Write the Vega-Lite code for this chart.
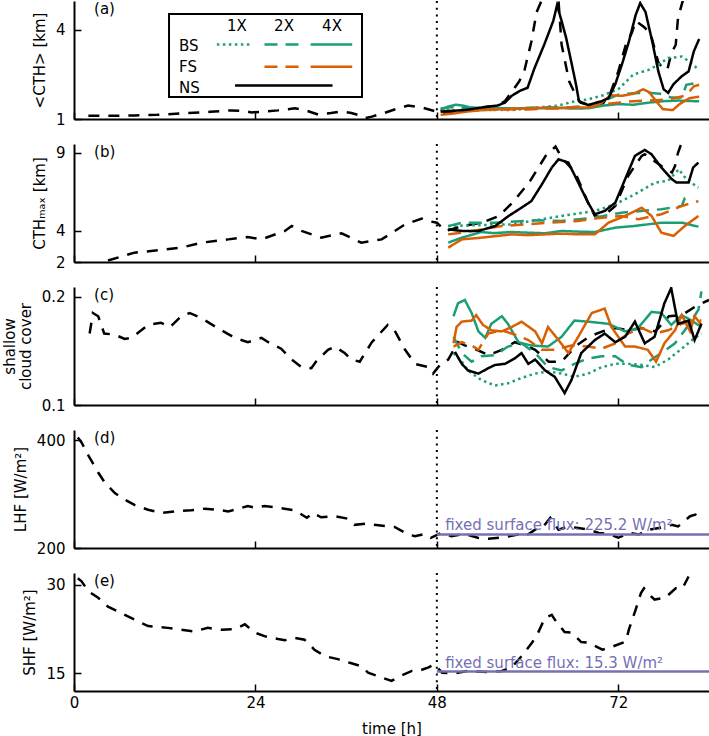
{
"$schema":"https://vega.github.io/schema/vega-lite/v6.json",
"padding":{"left":2,"top":0,"right":0,"bottom":0},
"background":"white",
"bounds":"flush",
"spacing":25,
"config":{
 "font":"DejaVu Sans",
 "view":{"stroke":null},
 "axis":{"domainColor":"black","domainWidth":2,"tickColor":"black","tickWidth":1.5,"tickSize":-7,"labelFontSize":15,"labelColor":"black","titleFontSize":15,"titleFontWeight":"normal","titleColor":"black","grid":false,"labelFlush":false,"labelOverlap":false,"labelBound":false},
 "axisY":{"labelPadding":16,"titlePadding":8},
 "axisX":{"labelPadding":11,"titlePadding":11},
 "text":{"font":"DejaVu Sans","fontSize":15,"color":"black"}
},
"datasets":{"ts":[
{"panel":"a","run":"CTRL","t":1.9,"v":1.11},{"panel":"a","run":"CTRL","t":5,"v":1.11},{"panel":"a","run":"CTRL","t":8,"v":1.12},{"panel":"a","run":"CTRL","t":11,"v":1.14},{"panel":"a","run":"CTRL","t":15,"v":1.2},{"panel":"a","run":"CTRL","t":18,"v":1.24},{"panel":"a","run":"CTRL","t":20.8,"v":1.29},{"panel":"a","run":"CTRL","t":22.5,"v":1.27},{"panel":"a","run":"CTRL","t":23.5,"v":1.22},{"panel":"a","run":"CTRL","t":25,"v":1.25},{"panel":"a","run":"CTRL","t":27,"v":1.29},{"panel":"a","run":"CTRL","t":29.2,"v":1.36},{"panel":"a","run":"CTRL","t":30.5,"v":1.3},{"panel":"a","run":"CTRL","t":32.3,"v":1.15},{"panel":"a","run":"CTRL","t":34,"v":1.2},{"panel":"a","run":"CTRL","t":35.4,"v":1.25},{"panel":"a","run":"CTRL","t":36.7,"v":1.2},{"panel":"a","run":"CTRL","t":37.8,"v":1.12},{"panel":"a","run":"CTRL","t":38.5,"v":1.03},{"panel":"a","run":"CTRL","t":39.4,"v":1.08},{"panel":"a","run":"CTRL","t":41,"v":1.2},{"panel":"a","run":"CTRL","t":42.4,"v":1.32},{"panel":"a","run":"CTRL","t":44.2,"v":1.45},{"panel":"a","run":"CTRL","t":46,"v":1.39},{"panel":"a","run":"CTRL","t":47.9,"v":1.25},{"panel":"a","run":"CTRL","t":49,"v":1.2},{"panel":"a","run":"CTRL","t":50,"v":1.25},{"panel":"a","run":"CTRL","t":52,"v":1.35},{"panel":"a","run":"CTRL","t":54,"v":1.39},{"panel":"a","run":"CTRL","t":56,"v":1.45},{"panel":"a","run":"CTRL","t":57,"v":1.6},{"panel":"a","run":"CTRL","t":58,"v":1.95},{"panel":"a","run":"CTRL","t":58.9,"v":2.27},{"panel":"a","run":"CTRL","t":59.6,"v":2.65},{"panel":"a","run":"CTRL","t":60.5,"v":3.6},{"panel":"a","run":"CTRL","t":61.2,"v":4.6},{"panel":"a","run":"CTRL","t":61.8,"v":4.95},{"panel":"a","run":"CTRL","t":62.5,"v":5.5},{"panel":"a","run":"CTRL","t":63.3,"v":5.7},{"panel":"a","run":"CTRL","t":64.1,"v":4.95},{"panel":"a","run":"CTRL","t":64.5,"v":3.5},{"panel":"a","run":"CTRL","t":65.5,"v":2.27},{"panel":"a","run":"CTRL","t":66.4,"v":1.78},{"panel":"a","run":"CTRL","t":67,"v":1.55},{"panel":"a","run":"CTRL","t":68,"v":1.48},{"panel":"a","run":"CTRL","t":70,"v":1.53},{"panel":"a","run":"CTRL","t":71,"v":1.9},{"panel":"a","run":"CTRL","t":72,"v":2.6},{"panel":"a","run":"CTRL","t":73,"v":3.5},{"panel":"a","run":"CTRL","t":73.8,"v":3.9},{"panel":"a","run":"CTRL","t":74.3,"v":4.3},{"panel":"a","run":"CTRL","t":75.4,"v":4.1},{"panel":"a","run":"CTRL","t":76.3,"v":3.85},{"panel":"a","run":"CTRL","t":77.3,"v":2.9},{"panel":"a","run":"CTRL","t":78,"v":2.67},{"panel":"a","run":"CTRL","t":78.5,"v":2.67},{"panel":"a","run":"CTRL","t":79,"v":3.2},{"panel":"a","run":"CTRL","t":79.6,"v":3.5},{"panel":"a","run":"CTRL","t":79.9,"v":4.4},{"panel":"a","run":"CTRL","t":80.5,"v":4.95},{"panel":"a","run":"CTRL","t":81.2,"v":5.6},{"panel":"a","run":"CTRL","t":82,"v":6.0},
{"panel":"a","run":"BS 1X","t":48.5,"v":1.3},{"panel":"a","run":"BS 1X","t":50,"v":1.3},{"panel":"a","run":"BS 1X","t":52,"v":1.28},{"panel":"a","run":"BS 1X","t":54,"v":1.3},{"panel":"a","run":"BS 1X","t":56,"v":1.31},{"panel":"a","run":"BS 1X","t":58,"v":1.3},{"panel":"a","run":"BS 1X","t":60,"v":1.35},{"panel":"a","run":"BS 1X","t":62,"v":1.4},{"panel":"a","run":"BS 1X","t":64,"v":1.45},{"panel":"a","run":"BS 1X","t":66,"v":1.58},{"panel":"a","run":"BS 1X","t":68,"v":1.66},{"panel":"a","run":"BS 1X","t":70,"v":1.8},{"panel":"a","run":"BS 1X","t":72,"v":2.0},{"panel":"a","run":"BS 1X","t":74,"v":2.5},{"panel":"a","run":"BS 1X","t":76,"v":2.65},{"panel":"a","run":"BS 1X","t":77.3,"v":2.83},{"panel":"a","run":"BS 1X","t":78.6,"v":3.05},{"panel":"a","run":"BS 1X","t":80.4,"v":3.1},{"panel":"a","run":"BS 1X","t":81.3,"v":2.95},{"panel":"a","run":"BS 1X","t":82.7,"v":2.65},
{"panel":"a","run":"BS 2X","t":48.5,"v":1.35},{"panel":"a","run":"BS 2X","t":50,"v":1.4},{"panel":"a","run":"BS 2X","t":52,"v":1.37},{"panel":"a","run":"BS 2X","t":54,"v":1.38},{"panel":"a","run":"BS 2X","t":56,"v":1.36},{"panel":"a","run":"BS 2X","t":58,"v":1.35},{"panel":"a","run":"BS 2X","t":60,"v":1.37},{"panel":"a","run":"BS 2X","t":62,"v":1.4},{"panel":"a","run":"BS 2X","t":64,"v":1.38},{"panel":"a","run":"BS 2X","t":66,"v":1.4},{"panel":"a","run":"BS 2X","t":68,"v":1.45},{"panel":"a","run":"BS 2X","t":70,"v":1.6},{"panel":"a","run":"BS 2X","t":72,"v":1.82},{"panel":"a","run":"BS 2X","t":74,"v":1.87},{"panel":"a","run":"BS 2X","t":76,"v":1.88},{"panel":"a","run":"BS 2X","t":77.5,"v":1.85},{"panel":"a","run":"BS 2X","t":79,"v":1.72},{"panel":"a","run":"BS 2X","t":80.4,"v":1.72},{"panel":"a","run":"BS 2X","t":81,"v":2.15},{"panel":"a","run":"BS 2X","t":82,"v":2.2},{"panel":"a","run":"BS 2X","t":82.7,"v":2.25},
{"panel":"a","run":"BS 4X","t":48.5,"v":1.3},{"panel":"a","run":"BS 4X","t":49.5,"v":1.42},{"panel":"a","run":"BS 4X","t":50.5,"v":1.48},{"panel":"a","run":"BS 4X","t":51.5,"v":1.45},{"panel":"a","run":"BS 4X","t":52.5,"v":1.38},{"panel":"a","run":"BS 4X","t":54,"v":1.37},{"panel":"a","run":"BS 4X","t":56,"v":1.37},{"panel":"a","run":"BS 4X","t":58,"v":1.35},{"panel":"a","run":"BS 4X","t":60,"v":1.37},{"panel":"a","run":"BS 4X","t":62,"v":1.36},{"panel":"a","run":"BS 4X","t":64,"v":1.38},{"panel":"a","run":"BS 4X","t":66,"v":1.35},{"panel":"a","run":"BS 4X","t":68,"v":1.36},{"panel":"a","run":"BS 4X","t":70,"v":1.45},{"panel":"a","run":"BS 4X","t":72,"v":1.5},{"panel":"a","run":"BS 4X","t":74,"v":1.48},{"panel":"a","run":"BS 4X","t":76,"v":1.55},{"panel":"a","run":"BS 4X","t":78,"v":1.6},{"panel":"a","run":"BS 4X","t":80,"v":1.62},{"panel":"a","run":"BS 4X","t":82,"v":1.6},{"panel":"a","run":"BS 4X","t":82.7,"v":1.6},
{"panel":"a","run":"FS 2X","t":48.5,"v":1.25},{"panel":"a","run":"FS 2X","t":50,"v":1.28},{"panel":"a","run":"FS 2X","t":52,"v":1.3},{"panel":"a","run":"FS 2X","t":54,"v":1.32},{"panel":"a","run":"FS 2X","t":56,"v":1.3},{"panel":"a","run":"FS 2X","t":58,"v":1.33},{"panel":"a","run":"FS 2X","t":60,"v":1.32},{"panel":"a","run":"FS 2X","t":62,"v":1.35},{"panel":"a","run":"FS 2X","t":64,"v":1.35},{"panel":"a","run":"FS 2X","t":66,"v":1.38},{"panel":"a","run":"FS 2X","t":68,"v":1.4},{"panel":"a","run":"FS 2X","t":70,"v":1.5},{"panel":"a","run":"FS 2X","t":72,"v":1.55},{"panel":"a","run":"FS 2X","t":74,"v":1.6},{"panel":"a","run":"FS 2X","t":76,"v":1.62},{"panel":"a","run":"FS 2X","t":78,"v":1.65},{"panel":"a","run":"FS 2X","t":79.5,"v":1.7},{"panel":"a","run":"FS 2X","t":81,"v":1.8},{"panel":"a","run":"FS 2X","t":82,"v":2.1},{"panel":"a","run":"FS 2X","t":82.7,"v":2.15},
{"panel":"a","run":"FS 4X","t":48.5,"v":1.14},{"panel":"a","run":"FS 4X","t":50,"v":1.18},{"panel":"a","run":"FS 4X","t":52,"v":1.25},{"panel":"a","run":"FS 4X","t":54,"v":1.3},{"panel":"a","run":"FS 4X","t":56,"v":1.32},{"panel":"a","run":"FS 4X","t":58,"v":1.35},{"panel":"a","run":"FS 4X","t":60,"v":1.35},{"panel":"a","run":"FS 4X","t":62,"v":1.38},{"panel":"a","run":"FS 4X","t":64,"v":1.36},{"panel":"a","run":"FS 4X","t":66,"v":1.4},{"panel":"a","run":"FS 4X","t":68,"v":1.38},{"panel":"a","run":"FS 4X","t":69.8,"v":1.55},{"panel":"a","run":"FS 4X","t":71,"v":1.8},{"panel":"a","run":"FS 4X","t":72.5,"v":1.78},{"panel":"a","run":"FS 4X","t":74,"v":1.85},{"panel":"a","run":"FS 4X","t":75.3,"v":2.0},{"panel":"a","run":"FS 4X","t":76.1,"v":1.9},{"panel":"a","run":"FS 4X","t":77,"v":1.6},{"panel":"a","run":"FS 4X","t":77.9,"v":1.33},{"panel":"a","run":"FS 4X","t":79.2,"v":1.3},{"panel":"a","run":"FS 4X","t":80.1,"v":1.5},{"panel":"a","run":"FS 4X","t":81.4,"v":1.7},{"panel":"a","run":"FS 4X","t":82.7,"v":1.75},
{"panel":"a","run":"NS","t":48.5,"v":1.25},{"panel":"a","run":"NS","t":50,"v":1.27},{"panel":"a","run":"NS","t":52,"v":1.31},{"panel":"a","run":"NS","t":54,"v":1.39},{"panel":"a","run":"NS","t":56,"v":1.45},{"panel":"a","run":"NS","t":57,"v":1.55},{"panel":"a","run":"NS","t":57.9,"v":1.78},{"panel":"a","run":"NS","t":59,"v":1.95},{"panel":"a","run":"NS","t":60,"v":2.05},{"panel":"a","run":"NS","t":60.9,"v":2.7},{"panel":"a","run":"NS","t":62.2,"v":3.5},{"panel":"a","run":"NS","t":63.4,"v":4.3},{"panel":"a","run":"NS","t":63.9,"v":4.83},{"panel":"a","run":"NS","t":64.5,"v":4.3},{"panel":"a","run":"NS","t":65.1,"v":3.73},{"panel":"a","run":"NS","t":65.8,"v":2.9},{"panel":"a","run":"NS","t":66.4,"v":2.17},{"panel":"a","run":"NS","t":66.8,"v":1.6},{"panel":"a","run":"NS","t":68,"v":1.47},{"panel":"a","run":"NS","t":69.8,"v":1.6},{"panel":"a","run":"NS","t":70.7,"v":1.7},{"panel":"a","run":"NS","t":71.6,"v":2.17},{"panel":"a","run":"NS","t":72.5,"v":2.85},{"panel":"a","run":"NS","t":73.4,"v":3.6},{"panel":"a","run":"NS","t":74.3,"v":4.5},{"panel":"a","run":"NS","t":74.9,"v":4.9},{"panel":"a","run":"NS","t":75.6,"v":4.6},{"panel":"a","run":"NS","t":76.5,"v":3.6},{"panel":"a","run":"NS","t":77.3,"v":2.6},{"panel":"a","run":"NS","t":78,"v":2.0},{"panel":"a","run":"NS","t":78.6,"v":1.88},{"panel":"a","run":"NS","t":79.3,"v":2.17},{"panel":"a","run":"NS","t":80.4,"v":2.44},{"panel":"a","run":"NS","t":81.3,"v":2.6},{"panel":"a","run":"NS","t":82,"v":3.28},{"panel":"a","run":"NS","t":82.7,"v":3.69},

{"panel":"b","run":"CTRL","t":4.5,"v":2.1},{"panel":"b","run":"CTRL","t":8,"v":2.6},{"panel":"b","run":"CTRL","t":11.5,"v":2.77},{"panel":"b","run":"CTRL","t":14.2,"v":2.92},{"panel":"b","run":"CTRL","t":16.9,"v":3.24},{"panel":"b","run":"CTRL","t":20.4,"v":3.45},{"panel":"b","run":"CTRL","t":23,"v":3.6},{"panel":"b","run":"CTRL","t":24.8,"v":3.45},{"panel":"b","run":"CTRL","t":27.9,"v":3.99},{"panel":"b","run":"CTRL","t":28.8,"v":4.31},{"panel":"b","run":"CTRL","t":30.1,"v":3.99},{"panel":"b","run":"CTRL","t":32.7,"v":3.56},{"panel":"b","run":"CTRL","t":35.4,"v":3.84},{"panel":"b","run":"CTRL","t":38,"v":3.24},{"panel":"b","run":"CTRL","t":40.7,"v":3.45},{"panel":"b","run":"CTRL","t":43.8,"v":4.41},{"panel":"b","run":"CTRL","t":46,"v":4.78},{"panel":"b","run":"CTRL","t":46.6,"v":4.65},{"panel":"b","run":"CTRL","t":48,"v":4.52},{"panel":"b","run":"CTRL","t":49.1,"v":3.99},{"panel":"b","run":"CTRL","t":50,"v":4.1},{"panel":"b","run":"CTRL","t":51.3,"v":4.3},{"panel":"b","run":"CTRL","t":54,"v":4.52},{"panel":"b","run":"CTRL","t":56.2,"v":4.95},{"panel":"b","run":"CTRL","t":58,"v":5.8},{"panel":"b","run":"CTRL","t":60.2,"v":7.09},{"panel":"b","run":"CTRL","t":62.4,"v":8.8},{"panel":"b","run":"CTRL","t":63.7,"v":9.4},{"panel":"b","run":"CTRL","t":64.5,"v":8.69},{"panel":"b","run":"CTRL","t":66.3,"v":7.73},{"panel":"b","run":"CTRL","t":68,"v":5.8},{"panel":"b","run":"CTRL","t":68.9,"v":4.95},{"panel":"b","run":"CTRL","t":69.8,"v":4.84},{"panel":"b","run":"CTRL","t":71.6,"v":5.59},{"panel":"b","run":"CTRL","t":73.3,"v":7.51},{"panel":"b","run":"CTRL","t":75.1,"v":8.8},{"panel":"b","run":"CTRL","t":75.5,"v":8.9},{"panel":"b","run":"CTRL","t":77.7,"v":8.15},{"panel":"b","run":"CTRL","t":79.1,"v":7.73},{"panel":"b","run":"CTRL","t":79.5,"v":8.15},{"panel":"b","run":"CTRL","t":79.9,"v":9.0},{"panel":"b","run":"CTRL","t":80.2,"v":9.4},{"panel":"b","run":"CTRL","t":80.6,"v":9.8},
{"panel":"b","run":"BS 1X","t":49.5,"v":4.3},{"panel":"b","run":"BS 1X","t":52.6,"v":4.35},{"panel":"b","run":"BS 1X","t":57.9,"v":4.41},{"panel":"b","run":"BS 1X","t":64.5,"v":4.95},{"panel":"b","run":"BS 1X","t":68.9,"v":5.27},{"panel":"b","run":"BS 1X","t":71.6,"v":5.7},{"panel":"b","run":"BS 1X","t":74.2,"v":6.34},{"panel":"b","run":"BS 1X","t":76.9,"v":7.09},{"panel":"b","run":"BS 1X","t":78.6,"v":7.2},{"panel":"b","run":"BS 1X","t":80,"v":7.94},{"panel":"b","run":"BS 1X","t":81,"v":7.3},{"panel":"b","run":"BS 1X","t":82.6,"v":6.76},
{"panel":"b","run":"BS 2X","t":49.5,"v":4.3},{"panel":"b","run":"BS 2X","t":51.3,"v":4.52},{"panel":"b","run":"BS 2X","t":55.7,"v":4.52},{"panel":"b","run":"BS 2X","t":61,"v":4.67},{"panel":"b","run":"BS 2X","t":64.5,"v":4.63},{"panel":"b","run":"BS 2X","t":68.9,"v":4.84},{"panel":"b","run":"BS 2X","t":72.4,"v":5.16},{"panel":"b","run":"BS 2X","t":77.7,"v":5.38},{"panel":"b","run":"BS 2X","t":80.4,"v":5.59},{"panel":"b","run":"BS 2X","t":80.8,"v":6.1},{"panel":"b","run":"BS 2X","t":81.5,"v":6.3},
{"panel":"b","run":"BS 4X","t":49.5,"v":3.24},{"panel":"b","run":"BS 4X","t":51.3,"v":3.56},{"panel":"b","run":"BS 4X","t":53.9,"v":3.92},{"panel":"b","run":"BS 4X","t":55.5,"v":3.85},{"panel":"b","run":"BS 4X","t":57.9,"v":3.92},{"panel":"b","run":"BS 4X","t":60,"v":3.88},{"panel":"b","run":"BS 4X","t":62.3,"v":3.84},{"panel":"b","run":"BS 4X","t":64.5,"v":3.99},{"panel":"b","run":"BS 4X","t":66.5,"v":3.95},{"panel":"b","run":"BS 4X","t":68.9,"v":3.92},{"panel":"b","run":"BS 4X","t":71.6,"v":4.2},{"panel":"b","run":"BS 4X","t":74.2,"v":4.31},{"panel":"b","run":"BS 4X","t":77.7,"v":4.52},{"panel":"b","run":"BS 4X","t":80.4,"v":4.52},{"panel":"b","run":"BS 4X","t":82.6,"v":4.26},
{"panel":"b","run":"FS 2X","t":49.5,"v":3.77},{"panel":"b","run":"FS 2X","t":51.3,"v":3.88},{"panel":"b","run":"FS 2X","t":56.6,"v":4.3},{"panel":"b","run":"FS 2X","t":62.7,"v":4.52},{"panel":"b","run":"FS 2X","t":66.7,"v":4.63},{"panel":"b","run":"FS 2X","t":68.9,"v":4.78},{"panel":"b","run":"FS 2X","t":72.4,"v":4.95},{"panel":"b","run":"FS 2X","t":74.7,"v":4.74},{"panel":"b","run":"FS 2X","t":77.7,"v":5.06},{"panel":"b","run":"FS 2X","t":80.4,"v":5.59},{"panel":"b","run":"FS 2X","t":82.6,"v":5.9},
{"panel":"b","run":"FS 4X","t":49.5,"v":2.92},{"panel":"b","run":"FS 4X","t":51.3,"v":3.45},{"panel":"b","run":"FS 4X","t":53.9,"v":3.56},{"panel":"b","run":"FS 4X","t":57.9,"v":3.77},{"panel":"b","run":"FS 4X","t":60,"v":3.72},{"panel":"b","run":"FS 4X","t":62.3,"v":3.77},{"panel":"b","run":"FS 4X","t":64.5,"v":3.82},{"panel":"b","run":"FS 4X","t":66.7,"v":3.77},{"panel":"b","run":"FS 4X","t":68.9,"v":3.77},{"panel":"b","run":"FS 4X","t":70.7,"v":4.52},{"panel":"b","run":"FS 4X","t":72.9,"v":4.95},{"panel":"b","run":"FS 4X","t":75.1,"v":5.48},{"panel":"b","run":"FS 4X","t":76.4,"v":4.95},{"panel":"b","run":"FS 4X","t":77.7,"v":3.88},{"panel":"b","run":"FS 4X","t":79.3,"v":3.67},{"panel":"b","run":"FS 4X","t":80.8,"v":4.31},{"panel":"b","run":"FS 4X","t":82.6,"v":4.95},
{"panel":"b","run":"NS","t":49.5,"v":4.09},{"panel":"b","run":"NS","t":51.3,"v":3.99},{"panel":"b","run":"NS","t":53.5,"v":3.99},{"panel":"b","run":"NS","t":55.7,"v":4.3},{"panel":"b","run":"NS","t":57.5,"v":4.95},{"panel":"b","run":"NS","t":59.2,"v":5.48},{"panel":"b","run":"NS","t":60.5,"v":5.9},{"panel":"b","run":"NS","t":61.9,"v":6.98},{"panel":"b","run":"NS","t":63.2,"v":8.05},{"panel":"b","run":"NS","t":64.1,"v":8.58},{"panel":"b","run":"NS","t":65.4,"v":8.37},{"panel":"b","run":"NS","t":66.7,"v":7.09},{"panel":"b","run":"NS","t":68,"v":5.8},{"panel":"b","run":"NS","t":68.9,"v":5.06},{"panel":"b","run":"NS","t":70.2,"v":5.27},{"panel":"b","run":"NS","t":71.6,"v":5.8},{"panel":"b","run":"NS","t":72.9,"v":7.3},{"panel":"b","run":"NS","t":74.2,"v":8.8},{"panel":"b","run":"NS","t":75.5,"v":9.18},{"panel":"b","run":"NS","t":76.4,"v":8.9},{"panel":"b","run":"NS","t":77.7,"v":8.05},{"panel":"b","run":"NS","t":79.1,"v":7.3},{"panel":"b","run":"NS","t":79.7,"v":7.09},{"panel":"b","run":"NS","t":81.3,"v":7.09},{"panel":"b","run":"NS","t":81.9,"v":8.05},{"panel":"b","run":"NS","t":82.6,"v":8.37},

{"panel":"c","run":"CTRL","t":2.07,"v":0.166},{"panel":"c","run":"CTRL","t":2.5,"v":0.185},{"panel":"c","run":"CTRL","t":3.2,"v":0.182},{"panel":"c","run":"CTRL","t":4,"v":0.166},{"panel":"c","run":"CTRL","t":5.4,"v":0.165},{"panel":"c","run":"CTRL","t":6.7,"v":0.161},{"panel":"c","run":"CTRL","t":7.6,"v":0.162},{"panel":"c","run":"CTRL","t":8.9,"v":0.169},{"panel":"c","run":"CTRL","t":9.8,"v":0.174},{"panel":"c","run":"CTRL","t":11.5,"v":0.176},{"panel":"c","run":"CTRL","t":12.7,"v":0.172},{"panel":"c","run":"CTRL","t":14.2,"v":0.182},{"panel":"c","run":"CTRL","t":15.3,"v":0.185},{"panel":"c","run":"CTRL","t":16.9,"v":0.18},{"panel":"c","run":"CTRL","t":19.5,"v":0.169},{"panel":"c","run":"CTRL","t":21.3,"v":0.162},{"panel":"c","run":"CTRL","t":23,"v":0.158},{"panel":"c","run":"CTRL","t":24.8,"v":0.162},{"panel":"c","run":"CTRL","t":25.7,"v":0.158},{"panel":"c","run":"CTRL","t":27.4,"v":0.152},{"panel":"c","run":"CTRL","t":28.8,"v":0.142},{"panel":"c","run":"CTRL","t":30.1,"v":0.135},{"panel":"c","run":"CTRL","t":31.4,"v":0.134},{"panel":"c","run":"CTRL","t":32,"v":0.14},{"panel":"c","run":"CTRL","t":33.6,"v":0.151},{"panel":"c","run":"CTRL","t":34.5,"v":0.154},{"panel":"c","run":"CTRL","t":35.8,"v":0.148},{"panel":"c","run":"CTRL","t":36.7,"v":0.142},{"panel":"c","run":"CTRL","t":37.8,"v":0.14},{"panel":"c","run":"CTRL","t":39.4,"v":0.158},{"panel":"c","run":"CTRL","t":41.5,"v":0.174},{"panel":"c","run":"CTRL","t":42.4,"v":0.169},{"panel":"c","run":"CTRL","t":43.8,"v":0.151},{"panel":"c","run":"CTRL","t":45.1,"v":0.138},{"panel":"c","run":"CTRL","t":46.9,"v":0.135},{"panel":"c","run":"CTRL","t":47.5,"v":0.129},{"panel":"c","run":"CTRL","t":48.4,"v":0.137},{"panel":"c","run":"CTRL","t":49.5,"v":0.142},{"panel":"c","run":"CTRL","t":50.8,"v":0.158},{"panel":"c","run":"CTRL","t":51.7,"v":0.155},{"panel":"c","run":"CTRL","t":53,"v":0.152},{"panel":"c","run":"CTRL","t":54.8,"v":0.146},{"panel":"c","run":"CTRL","t":56.6,"v":0.151},{"panel":"c","run":"CTRL","t":58.3,"v":0.158},{"panel":"c","run":"CTRL","t":59.7,"v":0.155},{"panel":"c","run":"CTRL","t":61,"v":0.151},{"panel":"c","run":"CTRL","t":62.8,"v":0.14},{"panel":"c","run":"CTRL","t":64.5,"v":0.14},{"panel":"c","run":"CTRL","t":66.3,"v":0.154},{"panel":"c","run":"CTRL","t":68.1,"v":0.163},{"panel":"c","run":"CTRL","t":69.9,"v":0.168},{"panel":"c","run":"CTRL","t":71.6,"v":0.171},{"panel":"c","run":"CTRL","t":73.4,"v":0.169},{"panel":"c","run":"CTRL","t":75.1,"v":0.171},{"panel":"c","run":"CTRL","t":76.9,"v":0.168},{"panel":"c","run":"CTRL","t":78.7,"v":0.182},{"panel":"c","run":"CTRL","t":80.4,"v":0.183},{"panel":"c","run":"CTRL","t":82.2,"v":0.191},{"panel":"c","run":"CTRL","t":84,"v":0.197},
{"panel":"c","run":"BS 1X","t":50.2,"v":0.148},{"panel":"c","run":"BS 1X","t":51.3,"v":0.14},{"panel":"c","run":"BS 1X","t":52.1,"v":0.132},{"panel":"c","run":"BS 1X","t":53.9,"v":0.123},{"panel":"c","run":"BS 1X","t":55.7,"v":0.118},{"panel":"c","run":"BS 1X","t":57.4,"v":0.12},{"panel":"c","run":"BS 1X","t":59.2,"v":0.125},{"panel":"c","run":"BS 1X","t":61,"v":0.129},{"panel":"c","run":"BS 1X","t":62.7,"v":0.131},{"panel":"c","run":"BS 1X","t":64.5,"v":0.129},{"panel":"c","run":"BS 1X","t":66.2,"v":0.126},{"panel":"c","run":"BS 1X","t":68,"v":0.129},{"panel":"c","run":"BS 1X","t":69.8,"v":0.135},{"panel":"c","run":"BS 1X","t":71.6,"v":0.138},{"panel":"c","run":"BS 1X","t":73.3,"v":0.138},{"panel":"c","run":"BS 1X","t":75.1,"v":0.137},{"panel":"c","run":"BS 1X","t":76.8,"v":0.135},{"panel":"c","run":"BS 1X","t":78.6,"v":0.142},{"panel":"c","run":"BS 1X","t":80.4,"v":0.152},{"panel":"c","run":"BS 1X","t":82.1,"v":0.162},{"panel":"c","run":"BS 1X","t":83,"v":0.166},
{"panel":"c","run":"BS 2X","t":50.2,"v":0.163},{"panel":"c","run":"BS 2X","t":51.3,"v":0.148},{"panel":"c","run":"BS 2X","t":52.6,"v":0.14},{"panel":"c","run":"BS 2X","t":53.9,"v":0.145},{"panel":"c","run":"BS 2X","t":55.7,"v":0.146},{"panel":"c","run":"BS 2X","t":57.4,"v":0.154},{"panel":"c","run":"BS 2X","t":59.2,"v":0.157},{"panel":"c","run":"BS 2X","t":61,"v":0.148},{"panel":"c","run":"BS 2X","t":62.7,"v":0.135},{"panel":"c","run":"BS 2X","t":64.5,"v":0.132},{"panel":"c","run":"BS 2X","t":66.2,"v":0.138},{"panel":"c","run":"BS 2X","t":68,"v":0.143},{"panel":"c","run":"BS 2X","t":69.8,"v":0.145},{"panel":"c","run":"BS 2X","t":71.6,"v":0.145},{"panel":"c","run":"BS 2X","t":73.3,"v":0.137},{"panel":"c","run":"BS 2X","t":75.1,"v":0.135},{"panel":"c","run":"BS 2X","t":76.4,"v":0.142},{"panel":"c","run":"BS 2X","t":77.7,"v":0.148},{"panel":"c","run":"BS 2X","t":79.5,"v":0.157},{"panel":"c","run":"BS 2X","t":80.8,"v":0.169},{"panel":"c","run":"BS 2X","t":81.7,"v":0.178},{"panel":"c","run":"BS 2X","t":82.6,"v":0.188},{"panel":"c","run":"BS 2X","t":83,"v":0.205},
{"panel":"c","run":"BS 4X","t":50.2,"v":0.182},{"panel":"c","run":"BS 4X","t":50.8,"v":0.194},{"panel":"c","run":"BS 4X","t":51.7,"v":0.197},{"panel":"c","run":"BS 4X","t":52.6,"v":0.185},{"panel":"c","run":"BS 4X","t":53.5,"v":0.168},{"panel":"c","run":"BS 4X","t":54.4,"v":0.162},{"panel":"c","run":"BS 4X","t":55.2,"v":0.175},{"panel":"c","run":"BS 4X","t":56.6,"v":0.182},{"panel":"c","run":"BS 4X","t":57.4,"v":0.175},{"panel":"c","run":"BS 4X","t":58.8,"v":0.158},{"panel":"c","run":"BS 4X","t":60.5,"v":0.155},{"panel":"c","run":"BS 4X","t":62.7,"v":0.154},{"panel":"c","run":"BS 4X","t":64.5,"v":0.163},{"panel":"c","run":"BS 4X","t":66.2,"v":0.178},{"panel":"c","run":"BS 4X","t":68,"v":0.177},{"panel":"c","run":"BS 4X","t":70.7,"v":0.175},{"panel":"c","run":"BS 4X","t":72.9,"v":0.168},{"panel":"c","run":"BS 4X","t":74.6,"v":0.171},{"panel":"c","run":"BS 4X","t":76.4,"v":0.186},{"panel":"c","run":"BS 4X","t":77.7,"v":0.185},{"panel":"c","run":"BS 4X","t":79,"v":0.174},{"panel":"c","run":"BS 4X","t":80.4,"v":0.183},{"panel":"c","run":"BS 4X","t":81.7,"v":0.178},{"panel":"c","run":"BS 4X","t":83,"v":0.172},
{"panel":"c","run":"FS 2X","t":50.2,"v":0.154},{"panel":"c","run":"FS 2X","t":51.3,"v":0.158},{"panel":"c","run":"FS 2X","t":52.6,"v":0.155},{"panel":"c","run":"FS 2X","t":53.5,"v":0.151},{"panel":"c","run":"FS 2X","t":54.8,"v":0.166},{"panel":"c","run":"FS 2X","t":56.6,"v":0.169},{"panel":"c","run":"FS 2X","t":58.3,"v":0.165},{"panel":"c","run":"FS 2X","t":60.1,"v":0.16},{"panel":"c","run":"FS 2X","t":61.9,"v":0.151},{"panel":"c","run":"FS 2X","t":63.6,"v":0.151},{"panel":"c","run":"FS 2X","t":65.8,"v":0.155},{"panel":"c","run":"FS 2X","t":68,"v":0.154},{"panel":"c","run":"FS 2X","t":69.8,"v":0.152},{"panel":"c","run":"FS 2X","t":71.6,"v":0.157},{"panel":"c","run":"FS 2X","t":73.3,"v":0.166},{"panel":"c","run":"FS 2X","t":75.1,"v":0.171},{"panel":"c","run":"FS 2X","t":76.8,"v":0.166},{"panel":"c","run":"FS 2X","t":78.6,"v":0.169},{"panel":"c","run":"FS 2X","t":80.4,"v":0.175},{"panel":"c","run":"FS 2X","t":82.1,"v":0.178},{"panel":"c","run":"FS 2X","t":83,"v":0.178},
{"panel":"c","run":"FS 4X","t":50.2,"v":0.157},{"panel":"c","run":"FS 4X","t":50.6,"v":0.172},{"panel":"c","run":"FS 4X","t":51.3,"v":0.177},{"panel":"c","run":"FS 4X","t":52.6,"v":0.178},{"panel":"c","run":"FS 4X","t":53.2,"v":0.183},{"panel":"c","run":"FS 4X","t":54.1,"v":0.174},{"panel":"c","run":"FS 4X","t":55.2,"v":0.169},{"panel":"c","run":"FS 4X","t":56.6,"v":0.168},{"panel":"c","run":"FS 4X","t":57.9,"v":0.172},{"panel":"c","run":"FS 4X","t":59.2,"v":0.177},{"panel":"c","run":"FS 4X","t":61,"v":0.168},{"panel":"c","run":"FS 4X","t":61.9,"v":0.157},{"panel":"c","run":"FS 4X","t":62.7,"v":0.172},{"panel":"c","run":"FS 4X","t":64.1,"v":0.16},{"panel":"c","run":"FS 4X","t":65.4,"v":0.148},{"panel":"c","run":"FS 4X","t":66.7,"v":0.163},{"panel":"c","run":"FS 4X","t":68.5,"v":0.185},{"panel":"c","run":"FS 4X","t":70.2,"v":0.189},{"panel":"c","run":"FS 4X","t":71.1,"v":0.172},{"panel":"c","run":"FS 4X","t":72.9,"v":0.154},{"panel":"c","run":"FS 4X","t":74.2,"v":0.154},{"panel":"c","run":"FS 4X","t":75.9,"v":0.151},{"panel":"c","run":"FS 4X","t":77,"v":0.14},{"panel":"c","run":"FS 4X","t":78.1,"v":0.157},{"panel":"c","run":"FS 4X","t":79.5,"v":0.169},{"panel":"c","run":"FS 4X","t":80.4,"v":0.183},{"panel":"c","run":"FS 4X","t":81.5,"v":0.168},{"panel":"c","run":"FS 4X","t":82.1,"v":0.182},{"panel":"c","run":"FS 4X","t":83,"v":0.174},
{"panel":"c","run":"NS","t":50.4,"v":0.149},{"panel":"c","run":"NS","t":51.3,"v":0.138},{"panel":"c","run":"NS","t":52.1,"v":0.132},{"panel":"c","run":"NS","t":53.5,"v":0.129},{"panel":"c","run":"NS","t":54.8,"v":0.134},{"panel":"c","run":"NS","t":55.7,"v":0.137},{"panel":"c","run":"NS","t":57,"v":0.138},{"panel":"c","run":"NS","t":58.3,"v":0.143},{"panel":"c","run":"NS","t":59.2,"v":0.148},{"panel":"c","run":"NS","t":60.1,"v":0.138},{"panel":"c","run":"NS","t":61,"v":0.142},{"panel":"c","run":"NS","t":62.3,"v":0.132},{"panel":"c","run":"NS","t":63.6,"v":0.126},{"panel":"c","run":"NS","t":64.9,"v":0.111},{"panel":"c","run":"NS","t":65.8,"v":0.123},{"panel":"c","run":"NS","t":67.1,"v":0.148},{"panel":"c","run":"NS","t":68.9,"v":0.16},{"panel":"c","run":"NS","t":70.2,"v":0.166},{"panel":"c","run":"NS","t":71.6,"v":0.158},{"panel":"c","run":"NS","t":72.9,"v":0.163},{"panel":"c","run":"NS","t":74.2,"v":0.177},{"panel":"c","run":"NS","t":75.5,"v":0.157},{"panel":"c","run":"NS","t":76.8,"v":0.163},{"panel":"c","run":"NS","t":78.1,"v":0.194},{"panel":"c","run":"NS","t":79,"v":0.208},{"panel":"c","run":"NS","t":79.9,"v":0.175},{"panel":"c","run":"NS","t":81.3,"v":0.178},{"panel":"c","run":"NS","t":82.1,"v":0.16},{"panel":"c","run":"NS","t":83,"v":0.175},

{"panel":"d","run":"CTRL","t":0.5,"v":405},{"panel":"d","run":"CTRL","t":1,"v":396},{"panel":"d","run":"CTRL","t":1.8,"v":374},{"panel":"d","run":"CTRL","t":3.2,"v":340},{"panel":"d","run":"CTRL","t":4.1,"v":321},{"panel":"d","run":"CTRL","t":5.4,"v":302},{"panel":"d","run":"CTRL","t":6.7,"v":290},{"panel":"d","run":"CTRL","t":8,"v":280},{"panel":"d","run":"CTRL","t":9.8,"v":271},{"panel":"d","run":"CTRL","t":11.5,"v":265},{"panel":"d","run":"CTRL","t":13.3,"v":268},{"panel":"d","run":"CTRL","t":15.5,"v":270},{"panel":"d","run":"CTRL","t":17.3,"v":273},{"panel":"d","run":"CTRL","t":19,"v":271},{"panel":"d","run":"CTRL","t":20.4,"v":268},{"panel":"d","run":"CTRL","t":21.3,"v":271},{"panel":"d","run":"CTRL","t":23,"v":278},{"panel":"d","run":"CTRL","t":23.9,"v":275},{"panel":"d","run":"CTRL","t":25.2,"v":278},{"panel":"d","run":"CTRL","t":27,"v":275},{"panel":"d","run":"CTRL","t":29.2,"v":270},{"panel":"d","run":"CTRL","t":30.8,"v":256},{"panel":"d","run":"CTRL","t":31.6,"v":265},{"panel":"d","run":"CTRL","t":32.7,"v":257},{"panel":"d","run":"CTRL","t":34.5,"v":259},{"panel":"d","run":"CTRL","t":36,"v":255},{"panel":"d","run":"CTRL","t":37.1,"v":243},{"panel":"d","run":"CTRL","t":38.5,"v":245},{"panel":"d","run":"CTRL","t":41.5,"v":240},{"panel":"d","run":"CTRL","t":42.4,"v":239},{"panel":"d","run":"CTRL","t":44.2,"v":225},{"panel":"d","run":"CTRL","t":45.1,"v":222},{"panel":"d","run":"CTRL","t":46.4,"v":226},{"panel":"d","run":"CTRL","t":47.2,"v":219},{"panel":"d","run":"CTRL","t":48.6,"v":228},{"panel":"d","run":"CTRL","t":49.9,"v":222},{"panel":"d","run":"CTRL","t":51.7,"v":226},{"panel":"d","run":"CTRL","t":53.4,"v":219},{"panel":"d","run":"CTRL","t":54.8,"v":217},{"panel":"d","run":"CTRL","t":56.9,"v":220},{"panel":"d","run":"CTRL","t":58.7,"v":225},{"panel":"d","run":"CTRL","t":59.7,"v":222},{"panel":"d","run":"CTRL","t":61,"v":234},{"panel":"d","run":"CTRL","t":62.1,"v":240},{"panel":"d","run":"CTRL","t":63,"v":256},{"panel":"d","run":"CTRL","t":64.1,"v":234},{"panel":"d","run":"CTRL","t":65.4,"v":240},{"panel":"d","run":"CTRL","t":66.7,"v":237},{"panel":"d","run":"CTRL","t":68.1,"v":234},{"panel":"d","run":"CTRL","t":69.4,"v":228},{"panel":"d","run":"CTRL","t":70.7,"v":226},{"panel":"d","run":"CTRL","t":72,"v":219},{"panel":"d","run":"CTRL","t":73.4,"v":228},{"panel":"d","run":"CTRL","t":74.7,"v":225},{"panel":"d","run":"CTRL","t":76,"v":234},{"panel":"d","run":"CTRL","t":77.4,"v":237},{"panel":"d","run":"CTRL","t":79.1,"v":243},{"panel":"d","run":"CTRL","t":79.9,"v":240},{"panel":"d","run":"CTRL","t":81.5,"v":259},{"panel":"d","run":"CTRL","t":82.2,"v":262},{"panel":"d","run":"CTRL","t":83.1,"v":250},
{"panel":"d","run":"FIXED","t":48,"v":225.2},{"panel":"d","run":"FIXED","t":84,"v":225.2},

{"panel":"e","run":"CTRL","t":0.5,"v":31.1},{"panel":"e","run":"CTRL","t":1,"v":30.6},{"panel":"e","run":"CTRL","t":1.9,"v":28.9},{"panel":"e","run":"CTRL","t":3.2,"v":27.8},{"panel":"e","run":"CTRL","t":4.5,"v":26.3},{"panel":"e","run":"CTRL","t":5.8,"v":25.5},{"panel":"e","run":"CTRL","t":8,"v":24.1},{"panel":"e","run":"CTRL","t":9.8,"v":23},{"panel":"e","run":"CTRL","t":10.7,"v":22.9},{"panel":"e","run":"CTRL","t":12.4,"v":22.7},{"panel":"e","run":"CTRL","t":14.2,"v":22.4},{"panel":"e","run":"CTRL","t":15.9,"v":22.1},{"panel":"e","run":"CTRL","t":17.7,"v":22.7},{"panel":"e","run":"CTRL","t":19.5,"v":22.4},{"panel":"e","run":"CTRL","t":21.3,"v":22.5},{"panel":"e","run":"CTRL","t":22.6,"v":23.3},{"panel":"e","run":"CTRL","t":23.9,"v":21.9},{"panel":"e","run":"CTRL","t":25.2,"v":21.3},{"panel":"e","run":"CTRL","t":27,"v":20.8},{"panel":"e","run":"CTRL","t":27.9,"v":20.6},{"panel":"e","run":"CTRL","t":29.2,"v":21},{"panel":"e","run":"CTRL","t":30.5,"v":20.7},{"panel":"e","run":"CTRL","t":31.8,"v":19},{"panel":"e","run":"CTRL","t":33.2,"v":17.9},{"panel":"e","run":"CTRL","t":34.9,"v":17.4},{"panel":"e","run":"CTRL","t":36.7,"v":16.7},{"panel":"e","run":"CTRL","t":38,"v":16.2},{"panel":"e","run":"CTRL","t":38.9,"v":15.1},{"panel":"e","run":"CTRL","t":40.7,"v":14.3},{"panel":"e","run":"CTRL","t":42,"v":13.7},{"panel":"e","run":"CTRL","t":43.3,"v":14.6},{"panel":"e","run":"CTRL","t":44.7,"v":15.4},{"panel":"e","run":"CTRL","t":45.6,"v":15.4},{"panel":"e","run":"CTRL","t":46.9,"v":16},{"panel":"e","run":"CTRL","t":47.7,"v":16.5},{"panel":"e","run":"CTRL","t":48.7,"v":15.1},{"panel":"e","run":"CTRL","t":50.4,"v":15},{"panel":"e","run":"CTRL","t":52.1,"v":15.4},{"panel":"e","run":"CTRL","t":54.8,"v":15.2},{"panel":"e","run":"CTRL","t":56.6,"v":15.4},{"panel":"e","run":"CTRL","t":57.9,"v":16},{"panel":"e","run":"CTRL","t":59.2,"v":17.9},{"panel":"e","run":"CTRL","t":60.6,"v":20.2},{"panel":"e","run":"CTRL","t":61.4,"v":21.9},{"panel":"e","run":"CTRL","t":62.3,"v":24.4},{"panel":"e","run":"CTRL","t":63.2,"v":24.9},{"panel":"e","run":"CTRL","t":63.6,"v":24.1},{"panel":"e","run":"CTRL","t":64.9,"v":22},{"panel":"e","run":"CTRL","t":65.8,"v":21.9},{"panel":"e","run":"CTRL","t":67.1,"v":20.3},{"panel":"e","run":"CTRL","t":68.1,"v":20.2},{"panel":"e","run":"CTRL","t":69.9,"v":19},{"panel":"e","run":"CTRL","t":71.2,"v":19.5},{"panel":"e","run":"CTRL","t":73,"v":20.4},{"panel":"e","run":"CTRL","t":73.4,"v":22.4},{"panel":"e","run":"CTRL","t":74.3,"v":25.8},{"panel":"e","run":"CTRL","t":75,"v":28.6},{"panel":"e","run":"CTRL","t":75.4,"v":29.4},{"panel":"e","run":"CTRL","t":76.1,"v":28.3},{"panel":"e","run":"CTRL","t":76.8,"v":27.5},{"panel":"e","run":"CTRL","t":78.2,"v":27.8},{"panel":"e","run":"CTRL","t":79.6,"v":29.4},{"panel":"e","run":"CTRL","t":80.5,"v":29.4},{"panel":"e","run":"CTRL","t":81.3,"v":31.4},
{"panel":"e","run":"FIXED","t":48,"v":15.3},{"panel":"e","run":"FIXED","t":84,"v":15.3}
],
"one":[{}]},
"resolve":{"scale":{"y":"independent"}},
"vconcat":[
{"width":635,"height":118,
 "layer":[
  {"data":{"name":"ts"},"transform":[{"filter":"datum.panel=='a'"}],
   "mark":{"type":"line","clip":true,"strokeWidth":2.5},
   "encoding":{
    "x":{"field":"t","type":"quantitative","scale":{"domain":[0,84],"nice":false},"axis":{"values":[0,24,48,72],"labels":false,"title":null}},
    "y":{"field":"v","type":"quantitative","scale":{"domain":[1,4.97],"nice":false,"zero":false},"axis":{"values":[1,4],"format":"d","title":"<CTH> [km]"}},
    "color":{"field":"run","type":"nominal","legend":null,"scale":{"domain":["CTRL","BS 1X","BS 2X","BS 4X","FS 2X","FS 4X","NS","FIXED"],"range":["#000000","#1b9e77","#1b9e77","#1b9e77","#d95f02","#d95f02","#000000","#7570b3"]}},
    "strokeDash":{"field":"run","type":"nominal","legend":null,"scale":{"domain":["CTRL","BS 1X","BS 2X","BS 4X","FS 2X","FS 4X","NS","FIXED"],"range":[[11,9],[2.5,3.5],[13,8],[1,0],[13,8],[1,0],[1,0],[1,0]]}}
   }},
  {"data":{"name":"one"},"mark":{"type":"rule","strokeDash":[2,4.7],"strokeWidth":2,"color":"black"},"encoding":{"x":{"datum":48,"type":"quantitative"}}},
  {"data":{"name":"one"},"mark":{"type":"text","text":"(a)","align":"left","baseline":"alphabetic","dy":13},"encoding":{"x":{"datum":2.65,"type":"quantitative"},"y":{"datum":4.97,"type":"quantitative"}}},
  {"data":{"name":"one"},"mark":{"type":"rect","fill":"white","stroke":"black","strokeWidth":2},"encoding":{"x":{"datum":12.57,"type":"quantitative"},"x2":{"datum":38.1},"y":{"datum":4.533,"type":"quantitative"},"y2":{"datum":1.74}}},
  {"data":{"name":"one"},"mark":{"type":"text","text":"1X","align":"center","baseline":"middle"},"encoding":{"x":{"datum":21.56,"type":"quantitative"},"y":{"datum":4.13,"type":"quantitative"}}},
  {"data":{"name":"one"},"mark":{"type":"text","text":"2X","align":"center","baseline":"middle"},"encoding":{"x":{"datum":27.78,"type":"quantitative"},"y":{"datum":4.13,"type":"quantitative"}}},
  {"data":{"name":"one"},"mark":{"type":"text","text":"4X","align":"center","baseline":"middle"},"encoding":{"x":{"datum":34.13,"type":"quantitative"},"y":{"datum":4.13,"type":"quantitative"}}},
  {"data":{"name":"one"},"mark":{"type":"text","text":"BS","align":"left","baseline":"middle"},"encoding":{"x":{"datum":13.9,"type":"quantitative"},"y":{"datum":3.46,"type":"quantitative"}}},
  {"data":{"name":"one"},"mark":{"type":"text","text":"FS","align":"left","baseline":"middle"},"encoding":{"x":{"datum":13.9,"type":"quantitative"},"y":{"datum":2.75,"type":"quantitative"}}},
  {"data":{"name":"one"},"mark":{"type":"text","text":"NS","align":"left","baseline":"middle"},"encoding":{"x":{"datum":13.9,"type":"quantitative"},"y":{"datum":2.04,"type":"quantitative"}}},
  {"data":{"name":"one"},"mark":{"type":"rule","strokeWidth":2.5,"color":"#1b9e77","strokeDash":[2.5,3.5]},"encoding":{"x":{"datum":18.9,"type":"quantitative"},"x2":{"datum":23.4},"y":{"datum":3.51,"type":"quantitative"}}},
  {"data":{"name":"one"},"mark":{"type":"rule","strokeWidth":2.5,"color":"#1b9e77","strokeDash":[13,8]},"encoding":{"x":{"datum":25.2,"type":"quantitative"},"x2":{"datum":29.8},"y":{"datum":3.51,"type":"quantitative"}}},
  {"data":{"name":"one"},"mark":{"type":"rule","strokeWidth":2.5,"color":"#1b9e77"},"encoding":{"x":{"datum":31.3,"type":"quantitative"},"x2":{"datum":36.8},"y":{"datum":3.51,"type":"quantitative"}}},
  {"data":{"name":"one"},"mark":{"type":"rule","strokeWidth":2.5,"color":"#d95f02","strokeDash":[13,8]},"encoding":{"x":{"datum":25.2,"type":"quantitative"},"x2":{"datum":29.8},"y":{"datum":2.76,"type":"quantitative"}}},
  {"data":{"name":"one"},"mark":{"type":"rule","strokeWidth":2.5,"color":"#d95f02"},"encoding":{"x":{"datum":31.3,"type":"quantitative"},"x2":{"datum":36.8},"y":{"datum":2.76,"type":"quantitative"}}},
  {"data":{"name":"one"},"mark":{"type":"rule","strokeWidth":2.5,"color":"black"},"encoding":{"x":{"datum":21.3,"type":"quantitative"},"x2":{"datum":34.2},"y":{"datum":2.13,"type":"quantitative"}}}
 ]},
{"width":635,"height":118,
 "layer":[
  {"data":{"name":"ts"},"transform":[{"filter":"datum.panel=='b'"}],
   "mark":{"type":"line","clip":true,"strokeWidth":2.5},
   "encoding":{
    "x":{"field":"t","type":"quantitative","scale":{"domain":[0,84],"nice":false},"axis":{"values":[0,24,48,72],"labels":false,"title":null}},
    "y":{"field":"v","type":"quantitative","scale":{"domain":[2,9.56],"nice":false,"zero":false},"axis":{"values":[2,4,9],"format":"d","title":"CTHₘₐₓ [km]"}},
    "color":{"field":"run","type":"nominal","legend":null,"scale":{"domain":["CTRL","BS 1X","BS 2X","BS 4X","FS 2X","FS 4X","NS","FIXED"],"range":["#000000","#1b9e77","#1b9e77","#1b9e77","#d95f02","#d95f02","#000000","#7570b3"]}},
    "strokeDash":{"field":"run","type":"nominal","legend":null,"scale":{"domain":["CTRL","BS 1X","BS 2X","BS 4X","FS 2X","FS 4X","NS","FIXED"],"range":[[11,9],[2.5,3.5],[13,8],[1,0],[13,8],[1,0],[1,0],[1,0]]}}
   }},
  {"data":{"name":"one"},"mark":{"type":"rule","strokeDash":[2,4.7],"strokeWidth":2,"color":"black"},"encoding":{"x":{"datum":48,"type":"quantitative"}}},
  {"data":{"name":"one"},"mark":{"type":"text","text":"(b)","align":"left","baseline":"alphabetic","dy":13},"encoding":{"x":{"datum":2.65,"type":"quantitative"},"y":{"datum":9.56,"type":"quantitative"}}}
 ]},
{"width":635,"height":118,
 "layer":[
  {"data":{"name":"ts"},"transform":[{"filter":"datum.panel=='c'"}],
   "mark":{"type":"line","clip":true,"strokeWidth":2.5},
   "encoding":{
    "x":{"field":"t","type":"quantitative","scale":{"domain":[0,84],"nice":false},"axis":{"values":[0,24,48,72],"labels":false,"title":null}},
    "y":{"field":"v","type":"quantitative","scale":{"domain":[0.1,0.209],"nice":false,"zero":false},"axis":{"values":[0.1,0.2],"format":".1f","title":["shallow","cloud cover"],"titleLineHeight":16}},
    "color":{"field":"run","type":"nominal","legend":null,"scale":{"domain":["CTRL","BS 1X","BS 2X","BS 4X","FS 2X","FS 4X","NS","FIXED"],"range":["#000000","#1b9e77","#1b9e77","#1b9e77","#d95f02","#d95f02","#000000","#7570b3"]}},
    "strokeDash":{"field":"run","type":"nominal","legend":null,"scale":{"domain":["CTRL","BS 1X","BS 2X","BS 4X","FS 2X","FS 4X","NS","FIXED"],"range":[[11,9],[2.5,3.5],[13,8],[1,0],[13,8],[1,0],[1,0],[1,0]]}}
   }},
  {"data":{"name":"one"},"mark":{"type":"rule","strokeDash":[2,4.7],"strokeWidth":2,"color":"black"},"encoding":{"x":{"datum":48,"type":"quantitative"}}},
  {"data":{"name":"one"},"mark":{"type":"text","text":"(c)","align":"left","baseline":"alphabetic","dy":13},"encoding":{"x":{"datum":2.65,"type":"quantitative"},"y":{"datum":0.209,"type":"quantitative"}}}
 ]},
{"width":635,"height":118,
 "layer":[
  {"data":{"name":"ts"},"transform":[{"filter":"datum.panel=='d'"}],
   "mark":{"type":"line","clip":true,"strokeWidth":2.5},
   "encoding":{
    "x":{"field":"t","type":"quantitative","scale":{"domain":[0,84],"nice":false},"axis":{"values":[0,24,48,72],"labels":false,"title":null}},
    "y":{"field":"v","type":"quantitative","scale":{"domain":[200,419],"nice":false,"zero":false},"axis":{"values":[200,400],"format":"d","title":"LHF [W/m²]"}},
    "color":{"field":"run","type":"nominal","legend":null,"scale":{"domain":["CTRL","BS 1X","BS 2X","BS 4X","FS 2X","FS 4X","NS","FIXED"],"range":["#000000","#1b9e77","#1b9e77","#1b9e77","#d95f02","#d95f02","#000000","#7570b3"]}},
    "strokeDash":{"field":"run","type":"nominal","legend":null,"scale":{"domain":["CTRL","BS 1X","BS 2X","BS 4X","FS 2X","FS 4X","NS","FIXED"],"range":[[11,9],[2.5,3.5],[13,8],[1,0],[13,8],[1,0],[1,0],[1,0]]}}
   }},
  {"data":{"name":"one"},"mark":{"type":"rule","strokeDash":[2,4.7],"strokeWidth":2,"color":"black"},"encoding":{"x":{"datum":48,"type":"quantitative"}}},
  {"data":{"name":"one"},"mark":{"type":"text","text":"(d)","align":"left","baseline":"alphabetic","dy":13},"encoding":{"x":{"datum":2.65,"type":"quantitative"},"y":{"datum":419,"type":"quantitative"}}},
  {"data":{"name":"one"},"mark":{"type":"text","text":"fixed surface flux: 225.2 W/m²","align":"left","baseline":"alphabetic","dy":-4,"color":"#7570b3"},"encoding":{"x":{"datum":49.1,"type":"quantitative"},"y":{"datum":225.2,"type":"quantitative"}}}
 ]},
{"width":635,"height":118,
 "layer":[
  {"data":{"name":"ts"},"transform":[{"filter":"datum.panel=='e'"}],
   "mark":{"type":"line","clip":true,"strokeWidth":2.5},
   "encoding":{
    "x":{"field":"t","type":"quantitative","scale":{"domain":[0,84],"nice":false},"axis":{"values":[0,24,48,72],"format":"d","title":"time [h]"}},
    "y":{"field":"v","type":"quantitative","scale":{"domain":[12,32],"nice":false,"zero":false},"axis":{"values":[15,30],"format":"d","title":"SHF [W/m²]"}},
    "color":{"field":"run","type":"nominal","legend":null,"scale":{"domain":["CTRL","BS 1X","BS 2X","BS 4X","FS 2X","FS 4X","NS","FIXED"],"range":["#000000","#1b9e77","#1b9e77","#1b9e77","#d95f02","#d95f02","#000000","#7570b3"]}},
    "strokeDash":{"field":"run","type":"nominal","legend":null,"scale":{"domain":["CTRL","BS 1X","BS 2X","BS 4X","FS 2X","FS 4X","NS","FIXED"],"range":[[11,9],[2.5,3.5],[13,8],[1,0],[13,8],[1,0],[1,0],[1,0]]}}
   }},
  {"data":{"name":"one"},"mark":{"type":"rule","strokeDash":[2,4.7],"strokeWidth":2,"color":"black"},"encoding":{"x":{"datum":48,"type":"quantitative"}}},
  {"data":{"name":"one"},"mark":{"type":"text","text":"(e)","align":"left","baseline":"alphabetic","dy":13},"encoding":{"x":{"datum":2.65,"type":"quantitative"},"y":{"datum":32,"type":"quantitative"}}},
  {"data":{"name":"one"},"mark":{"type":"text","text":"fixed surface flux: 15.3 W/m²","align":"left","baseline":"alphabetic","dy":-4,"color":"#7570b3"},"encoding":{"x":{"datum":49.1,"type":"quantitative"},"y":{"datum":15.3,"type":"quantitative"}}}
 ]}
]
}
